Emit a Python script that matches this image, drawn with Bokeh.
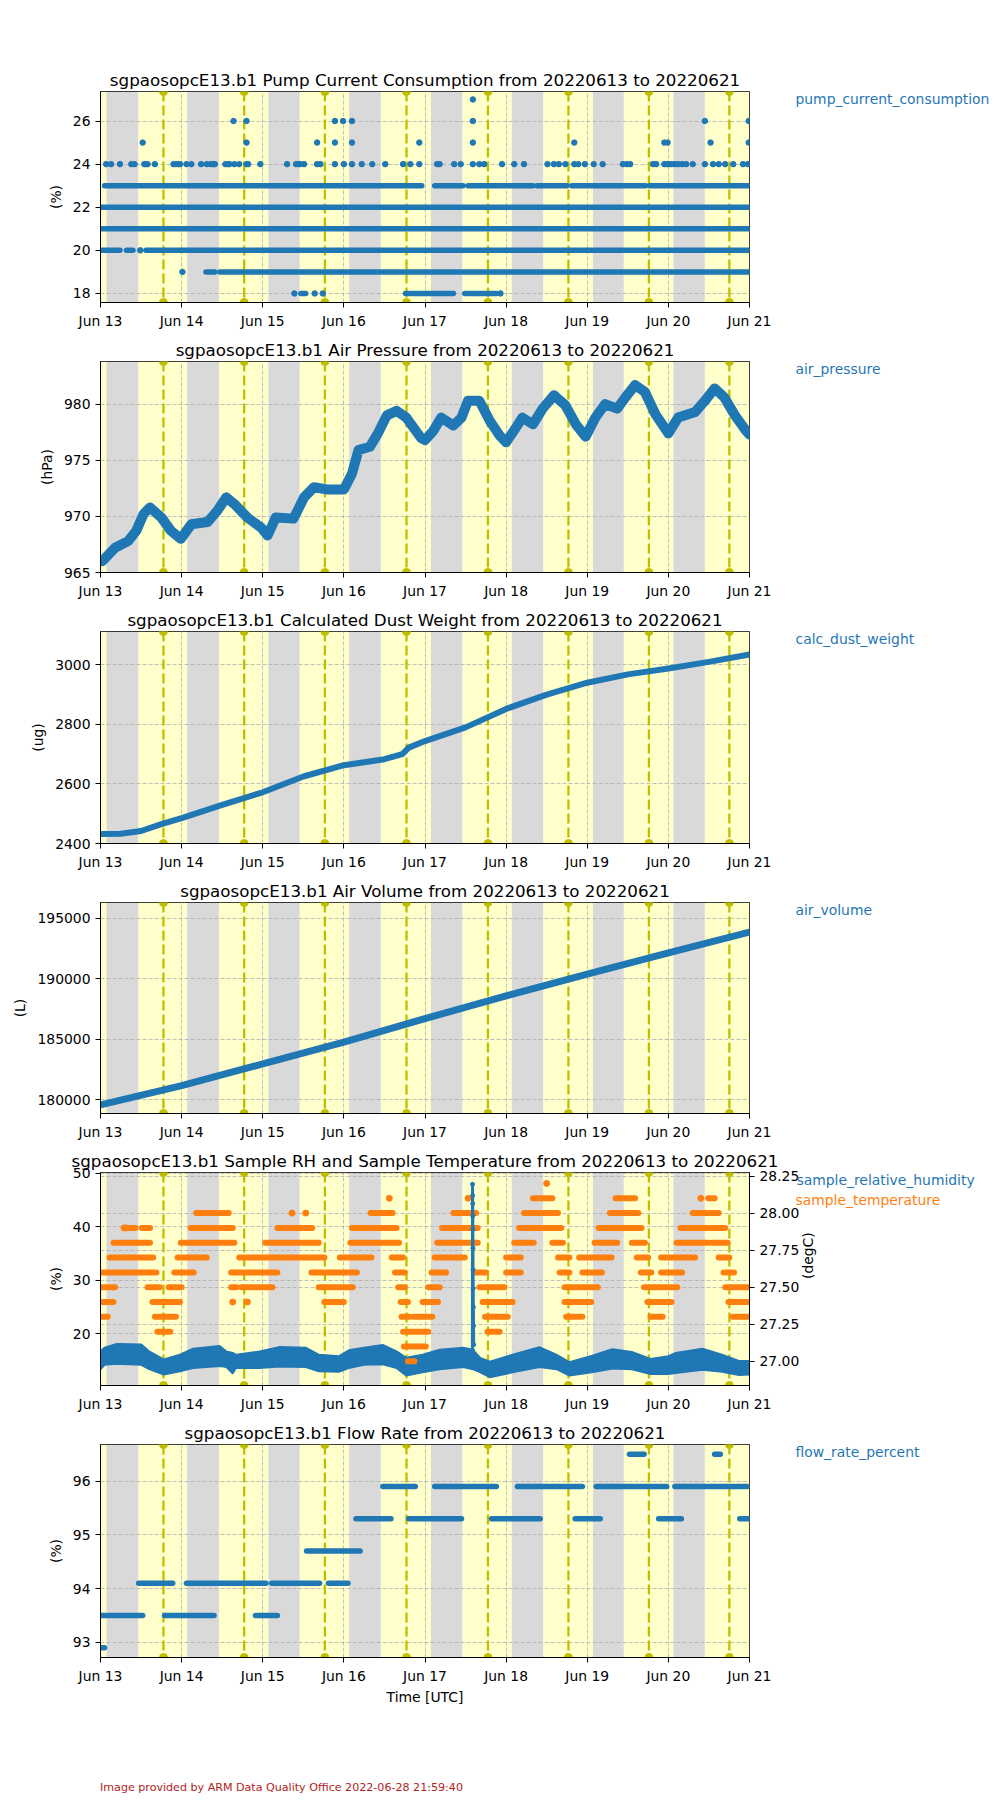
import math
import numpy as np
import pandas as pd
from bokeh.plotting import figure
from bokeh.models import (ColumnDataSource, Range1d, LinearAxis, FixedTicker,
                          DatetimeTickFormatter, BoxAnnotation, Div, Span,
                          Grid, PrintfTickFormatter, CustomJSTickFormatter)
from bokeh.layouts import column
from bokeh.embed import file_html
from bokeh.resources import INLINE

START = pd.Timestamp("2022-06-13 00:00:00")

# ---------------- day / night (days since 2022-06-13 00 UTC) ----------------
NIGHT_START = [0.073, 1.068, 2.070, 3.065, 4.073, 5.070, 6.070, 7.062]
NIGHT_END = [0.465, 1.460, 2.455, 3.455, 4.460, 5.457, 6.449, 7.449]
SOLAR_NOON = [0.776, 1.771, 2.766, 3.772, 4.776, 5.768, 6.760, 7.752]
DAY_TICKS = [0, 1, 2, 3, 4, 5, 6, 7, 8]

# ---------------- pump current consumption (%) ----------------
PUMP_RUN_START = [0.0, 0.0, 0.01, 0.32, 0.56, 0.67, 1.30, 1.47, 0.05, 4.12, 4.53, 5.38, 5.81, 6.77, 3.76, 4.49, 2.47]
PUMP_RUN_END = [8.0, 8.0, 0.24, 0.40, 0.65, 8.0, 1.41, 8.0, 3.96, 4.47, 5.33, 5.75, 6.72, 8.0, 4.35, 4.88, 2.53]
PUMP_RUN_LEVEL = [22, 21, 20, 20, 20, 20, 19, 19, 23, 23, 23, 23, 23, 23, 18, 18, 18]
PUMP_PT_DAY = [0.49, 1.01, 2.39, 2.64, 2.74, 4.93,
               0.07, 0.13, 0.24, 0.38, 0.42, 0.54, 0.56, 0.58, 0.67, 0.90, 0.93, 0.96, 0.98, 1.06,
               1.12, 1.24, 1.31, 1.36, 1.39, 1.41, 1.54, 1.57, 1.59, 1.65, 1.71, 1.80, 1.82, 1.97,
               2.30, 2.41, 2.44, 2.46, 2.51, 2.67, 2.71, 2.89, 3.00, 3.10, 3.22, 3.35, 3.51, 3.73,
               3.82, 3.93, 4.15, 4.18, 4.36, 4.44, 4.59, 4.67, 4.73, 4.95, 5.10, 5.22, 5.51, 5.59,
               5.65, 5.73, 5.84, 5.89, 5.97, 6.08, 6.19, 6.44, 6.49, 6.53, 6.81, 6.85, 6.95, 6.98,
               7.01, 7.04, 7.08, 7.12, 7.17, 7.22, 7.30, 7.45, 7.55, 7.62, 7.70, 7.80, 7.92, 7.98,
               0.52, 1.80, 2.67, 2.89, 3.10, 3.93, 4.59, 5.84, 6.95, 6.99, 7.52, 7.99,
               1.64, 1.80, 2.89, 2.99, 3.10, 4.59, 7.45, 7.99,
               4.59]
PUMP_PT_VAL = [20, 19, 18, 18, 18, 18] + [24] * 84 + [25] * 12 + [26] * 8 + [27]

# ---------------- air pressure (hPa) ----------------
PRES_DAY = [0.00, 0.02, 0.18, 0.34, 0.44, 0.53, 0.61, 0.75, 0.87, 0.99, 1.12, 1.32, 1.44, 1.55,
            1.65, 1.81, 1.98, 2.06, 2.16, 2.38, 2.51, 2.63, 2.79, 3.00, 3.10, 3.18, 3.32, 3.42,
            3.53, 3.65, 3.77, 3.95, 4.00, 4.10, 4.20, 4.35, 4.45, 4.53, 4.67, 4.80, 4.92, 5.00,
            5.12, 5.20, 5.33, 5.45, 5.59, 5.73, 5.86, 5.98, 6.10, 6.22, 6.37, 6.47, 6.59, 6.71,
            6.84, 7.00, 7.12, 7.33, 7.45, 7.57, 7.69, 7.82, 7.96, 8.00]
PRES_VAL = [966.0, 966.0, 967.2, 967.8, 968.7, 970.2, 970.8, 969.9, 968.7, 968.0, 969.3, 969.5, 970.5, 971.7,
            971.1, 969.9, 969.0, 968.3, 969.9, 969.8, 971.7, 972.6, 972.4, 972.4, 973.8, 975.9, 976.2, 977.4,
            979.0, 979.4, 978.8, 977.0, 976.8, 977.6, 978.8, 978.1, 978.8, 980.3, 980.3, 978.5, 977.2, 976.6,
            977.9, 978.8, 978.2, 979.6, 980.8, 979.9, 978.2, 977.1, 978.8, 980.0, 979.6, 980.6, 981.7, 981.1,
            979.1, 977.4, 978.8, 979.3, 980.3, 981.4, 980.6, 979.0, 977.6, 977.3]

# ---------------- calculated dust weight (ug) ----------------
DUST_DAY = [0.0, 0.25, 0.5, 0.75, 1.0, 1.5, 2.0, 2.5, 3.0, 3.5, 3.72, 3.8, 4.0, 4.5, 5.0, 5.5, 6.0, 6.5, 7.0, 7.5, 8.0]
DUST_VAL = [2432, 2433, 2442, 2465, 2485, 2530, 2572, 2625, 2663, 2683, 2700, 2722, 2744, 2790, 2852, 2900,
            2940, 2968, 2988, 3010, 3035]

# ---------------- air volume (L) ----------------
AIRVOL_DAY = [0, 1, 2, 3, 4, 5, 6, 7, 8]
AIRVOL_VAL = [179580, 181170, 182970, 184780, 186720, 188600, 190400, 192150, 193870]

# ---------------- sample RH (%) band and spike ----------------
RH_DAY = [0.0, 0.05, 0.2, 0.5, 0.6, 0.78, 0.98, 1.14, 1.47, 1.55, 1.63, 1.67, 1.96, 2.2, 2.53, 2.69,
          2.94, 3.06, 3.25, 3.48, 3.65, 3.77, 3.97, 4.18, 4.47, 4.59, 4.68, 4.80, 5.08, 5.41, 5.62,
          5.78, 6.06, 6.31, 6.55, 6.78, 7.0, 7.09, 7.42, 7.66, 7.87, 8.0]
RH_LOW = [13.4, 14.2, 14.4, 14.2, 13.4, 12.4, 13.0, 13.6, 14.0, 13.8, 12.6, 13.6, 13.6, 13.9, 13.8, 13.0,
          12.9, 13.6, 14.2, 14.3, 13.6, 12.2, 12.8, 13.4, 13.8, 13.4, 12.8, 11.9, 12.8, 13.8, 13.4,
          12.2, 12.8, 13.5, 13.4, 12.5, 12.5, 12.7, 13.3, 12.9, 12.3, 12.4]
RH_HIGH = [16.8, 17.5, 18.2, 18.1, 16.8, 15.3, 16.2, 17.3, 17.8, 16.8, 16.5, 16.2, 16.8, 17.6, 17.5, 16.2,
           15.9, 17.0, 17.5, 18.0, 16.8, 15.6, 16.2, 17.1, 17.5, 17.1, 15.6, 14.9, 16.2, 17.6, 16.2,
           14.8, 16.0, 17.2, 16.7, 15.4, 15.9, 16.5, 17.3, 16.2, 15.0, 15.0]
RH_SPIKE_DAY = [4.584, 4.586, 4.587, 4.588, 4.589, 4.590, 4.591, 4.592, 4.594, 4.596, 4.598, 4.600]
RH_SPIKE_VAL = [17.0, 47.9, 45.8, 44.3, 42.0, 39.5, 36.0, 32.0, 28.5, 25.0, 21.5, 18.0]

# ---------------- sample temperature (degC) runs ----------------
TEMP_RUN_START = [5.33, 6.35, 7.49,
                  1.18, 3.33, 4.35, 5.22, 6.28, 7.30,
                  0.36, 0.51, 1.11, 2.18, 3.10, 4.21, 5.16, 6.14, 7.15,
                  0.16, 0.99, 2.03, 3.08, 4.15, 5.10, 5.57, 6.09, 6.55, 7.10, 7.54,
                  0.11, 0.95, 1.71, 2.95, 3.59, 4.12, 4.41, 5.00, 5.64, 5.90, 6.61, 6.91, 7.62,
                  0.02, 0.56, 0.91, 1.61, 2.60, 3.63, 4.08, 4.62, 5.00, 5.66, 5.94, 6.66, 6.91, 7.68,
                  0.00, 0.58, 0.84, 1.61, 1.74, 2.69, 3.67, 4.04, 4.67, 5.72, 6.70, 7.70,
                  0.00, 0.64, 2.76, 3.70, 3.97, 4.71, 5.72, 6.74, 7.74,
                  0.00, 0.67, 3.71, 3.86, 4.74, 5.74, 6.78, 7.79,
                  0.70, 3.73, 4.77,
                  3.74,
                  3.79]
TEMP_RUN_END = [5.57, 6.59, 7.57,
                1.58, 3.60, 4.63, 5.64, 6.63, 7.62,
                0.43, 0.61, 1.63, 2.61, 3.65, 4.65, 5.68, 6.67, 7.70,
                0.61, 1.65, 2.69, 3.68, 4.65, 5.34, 5.70, 6.37, 6.71, 7.50, 7.73,
                0.65, 1.31, 2.76, 3.34, 3.73, 4.39, 4.49, 5.18, 5.78, 6.30, 6.75, 7.33, 7.75,
                0.53, 0.69, 1.15, 2.18, 3.16, 3.75, 4.26, 4.75, 5.18, 5.78, 6.18, 6.79, 7.17, 7.81,
                0.18, 0.73, 1.00, 1.68, 2.12, 3.11, 3.75, 4.18, 4.98, 6.13, 7.11, 8.00,
                0.16, 0.98, 3.00, 3.79, 4.16, 5.08, 6.05, 7.04, 8.00,
                0.09, 0.93, 3.81, 4.09, 5.02, 5.94, 6.93, 8.00,
                0.86, 4.04, 4.92,
                4.01,
                3.87]
TEMP_RUN_LEVEL = ([28.1] * 3 + [28.0] * 6 + [27.9] * 9 + [27.8] * 11 + [27.7] * 13 + [27.6] * 14 +
                  [27.5] * 12 + [27.4] * 9 + [27.3] * 8 + [27.2] * 3 + [27.1] + [27.0])
TEMP_PT_DAY = [0.29, 0.32, 2.36, 2.53, 1.63, 1.81, 3.56, 4.53, 5.50, 7.40]
TEMP_PT_VAL = [27.9, 27.9, 28.0, 28.0, 27.4, 27.4, 28.1, 28.1, 28.2, 28.1]

# ---------------- flow rate (%) runs ----------------
FLOW_RUN_START = [0.00, 0.00, 0.79, 1.91, 0.47, 1.06, 2.11, 2.81, 2.54,
                  3.15, 3.80, 4.82, 5.85, 6.88, 7.88, 3.48, 4.12, 5.14, 6.11, 7.08, 6.52, 7.57]
FLOW_RUN_END = [0.05, 0.52, 1.40, 2.18, 0.89, 2.04, 2.70, 3.05, 3.20,
                3.58, 4.45, 5.42, 6.16, 7.16, 8.00, 3.88, 4.88, 5.94, 6.98, 7.97, 6.70, 7.64]
FLOW_RUN_LEVEL = [92.9, 93.5, 93.5, 93.5, 94.1, 94.1, 94.1, 94.1, 94.7,
                  95.3, 95.3, 95.3, 95.3, 95.3, 95.3, 95.9, 95.9, 95.9, 95.9, 95.9, 96.5, 96.5]

# ---------------- styling ----------------
BLUE = "#1f77b4"
ORANGE = "#ff7f0e"
NIGHT = "#d9d9d9"
DAYC = "#ffffcc"
NOON = "#bfbf00"
GRIDC = "#b0b0b0"
FONT = "DejaVu Sans"
LEFT_B, RIGHT_B, FRAME_W = 100, 242, 650
FIG_W = LEFT_B + FRAME_W + RIGHT_B
LEG_GAP = 46


def to_dt(days):
    return (START + pd.to_timedelta(np.asarray(days, dtype=float), unit="D")).values


def to_ms(d):
    return (START + pd.Timedelta(days=float(d))).value / 1e6


XR = Range1d(start=to_ms(0), end=to_ms(8))


def style_axis(ax):
    ax.axis_line_color = "black"
    ax.major_tick_line_color = "black"
    ax.major_tick_out = 5
    ax.major_tick_in = 0
    ax.minor_tick_line_color = None
    ax.major_label_text_font = FONT
    ax.major_label_text_font_size = "13.9px"
    ax.major_label_text_color = "black"
    ax.major_label_standoff = 5
    ax.axis_label_text_font = FONT
    ax.axis_label_text_font_size = "13.9px"
    ax.axis_label_text_font_style = "normal"
    ax.axis_label_text_color = "black"
    ax.axis_label_standoff = 6


def legend_axis(p, yr, frame_h, txt, col, row_i, standoff):
    """series name shown right of the frame, drawn as a one-tick axis label"""
    ypos = round(yr[1] - (8.0 + 19.7 * row_i) * (yr[1] - yr[0]) / frame_h, 4)
    lax = LinearAxis(ticker=FixedTicker(ticks=[ypos]),
                     formatter=CustomJSTickFormatter(code=f"return '{txt}';"))
    lax.axis_line_color = None
    lax.major_tick_line_color = None
    lax.minor_tick_line_color = None
    lax.major_tick_out = 0
    lax.major_tick_in = 0
    lax.major_label_standoff = int(round(standoff))
    lax.major_label_text_color = col
    lax.major_label_text_font = FONT
    lax.major_label_text_font_size = "13.9px"
    p.add_layout(lax, "right")


def make_fig(title, ylabel, yr, yticks, yfmt, height, top, bottom, legend=None, xlabel=None):
    frame_h = height - top - bottom
    p = figure(width=FIG_W, height=height, x_axis_type="datetime", x_range=XR,
               y_range=Range1d(*yr), output_backend="svg", toolbar_location=None,
               min_border_left=LEFT_B, min_border_right=RIGHT_B,
               min_border_top=top, min_border_bottom=bottom)
    p.title.text = title
    p.title.align = "center"
    p.title.text_font = FONT
    p.title.text_font_size = "16.7px"
    p.title.text_font_style = "normal"
    p.title.text_color = "black"
    p.title.standoff = 3
    p.outline_line_color = "black"
    p.outline_line_alpha = 1
    p.outline_line_width = 1
    p.background_fill_color = "white"

    style_axis(p.xaxis[0])
    style_axis(p.yaxis[0])
    p.xaxis.ticker = FixedTicker(ticks=[to_ms(d) for d in DAY_TICKS])
    p.xaxis.formatter = DatetimeTickFormatter(days="%b %d", hours="%b %d", months="%b %d",
                                              hourmin="%b %d", minutes="%b %d")
    p.yaxis.ticker = FixedTicker(ticks=yticks)
    p.yaxis.formatter = PrintfTickFormatter(format=yfmt)
    p.yaxis.axis_label = ylabel
    if xlabel:
        p.xaxis.axis_label = xlabel
        p.xaxis.axis_label_standoff = 2

    for g in (p.xgrid[0], p.ygrid[0]):
        g.grid_line_color = GRIDC
        g.grid_line_dash = "4 2"
        g.grid_line_width = 0.8
    p.xgrid.ticker = FixedTicker(ticks=[to_ms(d) for d in DAY_TICKS])
    p.ygrid.ticker = FixedTicker(ticks=yticks)

    # day / night shading
    day_l = [0.0] + NIGHT_END
    day_r = NIGHT_START + [8.0]
    for l, r in zip(day_l, day_r):
        p.add_layout(BoxAnnotation(left=to_ms(l), right=to_ms(r), fill_color=DAYC, fill_alpha=1,
                                   line_color=None, level="image"))
    for l, r in zip(NIGHT_START, NIGHT_END):
        p.add_layout(BoxAnnotation(left=to_ms(l), right=to_ms(r), fill_color=NIGHT, fill_alpha=1,
                                   line_color=None, level="image"))
    for n in SOLAR_NOON:
        p.add_layout(Span(location=to_ms(n), dimension="height", line_color=NOON, line_width=2.3,
                          line_dash="10 4", level="underlay"))
    p.scatter(x=to_dt(SOLAR_NOON + SOLAR_NOON),
              y=[yr[1]] * len(SOLAR_NOON) + [yr[0]] * len(SOLAR_NOON),
              size=8, marker="circle", fill_color=NOON, line_color=NOON)

    if legend:
        legend_axis(p, yr, frame_h, legend[0], legend[1], 0, LEG_GAP)
    return p


def add_rows(p, starts, ends, levels, color, width, **kw):
    src = ColumnDataSource(dict(x0=to_dt(starts), x1=to_dt(ends), y=list(levels)))
    p.segment(x0="x0", y0="y", x1="x1", y1="y", source=src, line_color=color,
              line_width=width, line_cap="round", **kw)


T = "from 20220613 to 20220621"

# 1 pump current
p1 = make_fig(f"sgpaosopcE13.b1 Pump Current Consumption {T}", "(%)", (17.58, 27.37),
              [18, 20, 22, 24, 26], "%d", 331, 91, 28, ("pump_current_consumption", BLUE))
add_rows(p1, PUMP_RUN_START, PUMP_RUN_END, PUMP_RUN_LEVEL, BLUE, 5.5)
p1.scatter(x=to_dt(PUMP_PT_DAY), y=PUMP_PT_VAL, size=5.5, color=BLUE)

# 2 air pressure
p2 = make_fig(f"sgpaosopcE13.b1 Air Pressure {T}", "(hPa)", (965.0, 983.8),
              [965, 970, 975, 980], "%d", 270, 30, 28, ("air_pressure", BLUE))
p2.line(x=to_dt(PRES_DAY), y=PRES_VAL, line_color=BLUE, line_width=10, line_join="round", line_cap="round")

# 3 dust weight
p3 = make_fig(f"sgpaosopcE13.b1 Calculated Dust Weight {T}", "(ug)", (2400, 3112),
              [2400, 2600, 2800, 3000], "%d", 271, 30, 28, ("calc_dust_weight", BLUE))
p3.line(x=to_dt(DUST_DAY), y=DUST_VAL, line_color=BLUE, line_width=6, line_join="round")

# 4 air volume
p4 = make_fig(f"sgpaosopcE13.b1 Air Volume {T}", "(L)", (178870, 196320),
              [180000, 185000, 190000, 195000], "%d", 270, 30, 28, ("air_volume", BLUE))
p4.line(x=to_dt(AIRVOL_DAY), y=AIRVOL_VAL, line_color=BLUE, line_width=7)

# 5 RH and temperature
P5_YR = (10.4, 50.1)
p5 = make_fig(f"sgpaosopcE13.b1 Sample RH and Sample Temperature {T}", "(%)", P5_YR,
              [20, 30, 40, 50], "%d", 272, 30, 28)
TEMP_TICKS = [27.0, 27.25, 27.5, 27.75, 28.0, 28.25]
p5.extra_y_ranges = {"temp": Range1d(26.837, 28.274)}
rax = LinearAxis(y_range_name="temp", axis_label="(degC)", ticker=FixedTicker(ticks=TEMP_TICKS),
                 formatter=PrintfTickFormatter(format="%.2f"))
style_axis(rax)
try:
    rax.axis_label_orientation = math.pi / 2
except Exception:
    pass
p5.add_layout(rax, "right")
# the two series names sit over the right axis, 46 px right of the frame
RAX_EXT = 77
W_RH_LABEL = 181.6
sb = LEG_GAP - RAX_EXT
legend_axis(p5, P5_YR, 214, "sample_relative_humidity", BLUE, 0, sb)
legend_axis(p5, P5_YR, 214, "sample_temperature", ORANGE, 1, sb - (sb + W_RH_LABEL))
tg = Grid(dimension=1, ticker=FixedTicker(ticks=TEMP_TICKS), y_range_name="temp",
          grid_line_color=GRIDC, grid_line_dash="4 2", grid_line_width=0.8)
p5.add_layout(tg)
p5.varea(x=to_dt(RH_DAY), y1=RH_LOW, y2=RH_HIGH, fill_color=BLUE)
p5.line(x=to_dt(RH_DAY), y=RH_LOW, line_color=BLUE, line_width=1.5)
p5.line(x=to_dt(RH_DAY), y=RH_HIGH, line_color=BLUE, line_width=1.5)
add_rows(p5, TEMP_RUN_START, TEMP_RUN_END, TEMP_RUN_LEVEL, ORANGE, 6, y_range_name="temp")
p5.scatter(x=to_dt(TEMP_PT_DAY), y=TEMP_PT_VAL, size=6, color=ORANGE, y_range_name="temp")
p5.line(x=to_dt(RH_SPIKE_DAY), y=RH_SPIKE_VAL, line_color=BLUE, line_width=3)
p5.scatter(x=to_dt(RH_SPIKE_DAY), y=RH_SPIKE_VAL, size=4, color=BLUE)

# 6 flow rate
p6 = make_fig(f"sgpaosopcE13.b1 Flow Rate {T}", "(%)", (92.72, 96.68),
              [93, 94, 95, 96], "%d", 303, 30, 60, ("flow_rate_percent", BLUE), xlabel="Time [UTC]")
add_rows(p6, FLOW_RUN_START, FLOW_RUN_END, FLOW_RUN_LEVEL, BLUE, 5.5)

footer = Div(text="Image provided by ARM Data Quality Office 2022-06-28 21:59:40",
             styles={"color": "#b22222", "font-family": FONT, "font-size": "11.1px",
                     "white-space": "nowrap", "line-height": "13px"},
             margin=(64, 0, 0, LEFT_B))

layout = column(p1, p2, p3, p4, p5, p6, footer, spacing=0)
open("out.html", "w").write(file_html(layout, INLINE))
